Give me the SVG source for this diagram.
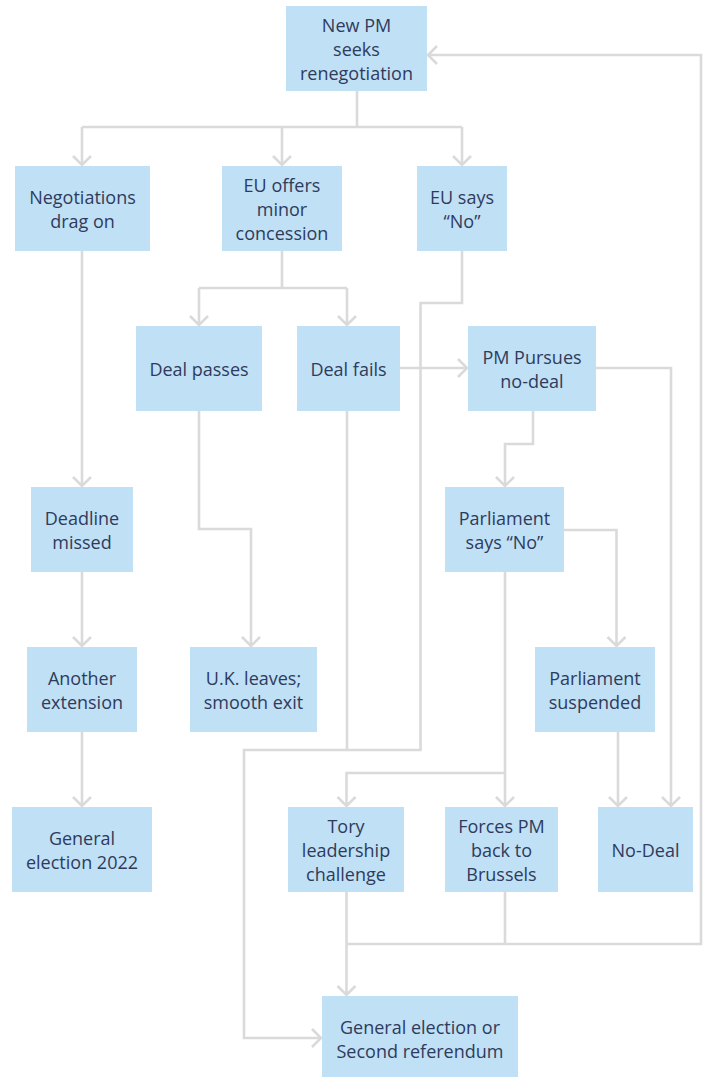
<svg xmlns="http://www.w3.org/2000/svg" width="708" height="1077" viewBox="0 0 708 1077">
<style>
.box{fill:#bfe0f5}
.t{font-family:"Open Sans","Noto Sans","DejaVu Sans",sans-serif;font-size:18px;fill:#2f3b5c;text-anchor:middle}
.c{fill:none;stroke:#dadada;stroke-width:2.6}
</style>
<defs>
<marker id="ah" markerUnits="userSpaceOnUse" markerWidth="24" markerHeight="24" viewBox="-12 -12 24 24" refX="0" refY="0" orient="auto">
<path d="M-9,-9 L0,0 L-9,9" fill="none" stroke="#dadada" stroke-width="2.6"/>
</marker>
</defs>
<g id="connectors">
<path class="c" d="M357,91 V127 M82,127 H462"/>
<path class="c" d="M82,127 V165" marker-end="url(#ah)"/>
<path class="c" d="M282,127 V165" marker-end="url(#ah)"/>
<path class="c" d="M462,127 V165" marker-end="url(#ah)"/>
<path class="c" d="M282,251 V288 M199,288 H347"/>
<path class="c" d="M199,288 V325" marker-end="url(#ah)"/>
<path class="c" d="M347,288 V325" marker-end="url(#ah)"/>
<path class="c" d="M82,251 V486" marker-end="url(#ah)"/>
<path class="c" d="M462,251 V303 H420.5 V750 H244 V1038 H321" marker-end="url(#ah)"/>
<path class="c" d="M347,411 V750"/>
<path class="c" d="M400,368 H467" marker-end="url(#ah)"/>
<path class="c" d="M596,368 H671 V806" marker-end="url(#ah)"/>
<path class="c" d="M533,411 V444 H505 V486" marker-end="url(#ah)"/>
<path class="c" d="M199,411 V529 H251 V646" marker-end="url(#ah)"/>
<path class="c" d="M564,530 H616.5 V646" marker-end="url(#ah)"/>
<path class="c" d="M505,572 V806" marker-end="url(#ah)"/>
<path class="c" d="M505,773 H346.5 V806" marker-end="url(#ah)"/>
<path class="c" d="M618,732 V806" marker-end="url(#ah)"/>
<path class="c" d="M82,572 V646" marker-end="url(#ah)"/>
<path class="c" d="M82,732 V806" marker-end="url(#ah)"/>
<path class="c" d="M346.5,892 V995" marker-end="url(#ah)"/>
<path class="c" d="M505,892 V944"/>
<path class="c" d="M346.5,944 H701 V55 H428" marker-end="url(#ah)"/>
</g>
<g id="n1"><rect class="box" x="286" y="6" width="141" height="85"/><text class="t" x="356.5" y="32">New PM</text><text class="t" x="356.5" y="56">seeks</text><text class="t" x="356.5" y="80">renegotiation</text></g>
<g id="n2"><rect class="box" x="15" y="166" width="135" height="85"/><text class="t" x="82.5" y="204">Negotiations</text><text class="t" x="82.5" y="228">drag on</text></g>
<g id="n3"><rect class="box" x="222" y="166" width="120" height="85"/><text class="t" x="282" y="192">EU offers</text><text class="t" x="282" y="216">minor</text><text class="t" x="282" y="240">concession</text></g>
<g id="n4"><rect class="box" x="417" y="166" width="90" height="85"/><text class="t" x="462" y="204">EU says</text><text class="t" x="462" y="228">“No”</text></g>
<g id="n5"><rect class="box" x="136" y="326" width="126" height="85"/><text class="t" x="199" y="376">Deal passes</text></g>
<g id="n6"><rect class="box" x="297" y="326" width="103" height="85"/><text class="t" x="348.5" y="376">Deal fails</text></g>
<g id="n7"><rect class="box" x="468" y="326" width="128" height="85"/><text class="t" x="532" y="364">PM Pursues</text><text class="t" x="532" y="388">no-deal</text></g>
<g id="n8"><rect class="box" x="31" y="487" width="102" height="85"/><text class="t" x="82" y="525">Deadline</text><text class="t" x="82" y="549">missed</text></g>
<g id="n9"><rect class="box" x="445" y="487" width="119" height="85"/><text class="t" x="504.5" y="525">Parliament</text><text class="t" x="504.5" y="549">says “No”</text></g>
<g id="n10"><rect class="box" x="27" y="647" width="110" height="85"/><text class="t" x="82" y="685">Another</text><text class="t" x="82" y="709">extension</text></g>
<g id="n11"><rect class="box" x="190" y="647" width="127" height="85"/><text class="t" x="253.5" y="685">U.K. leaves;</text><text class="t" x="253.5" y="709">smooth exit</text></g>
<g id="n12"><rect class="box" x="535" y="647" width="120" height="85"/><text class="t" x="595" y="685">Parliament</text><text class="t" x="595" y="709">suspended</text></g>
<g id="n13"><rect class="box" x="12" y="807" width="140" height="85"/><text class="t" x="82" y="845">General</text><text class="t" x="82" y="869">election 2022</text></g>
<g id="n14"><rect class="box" x="288" y="807" width="116" height="85"/><text class="t" x="346" y="833">Tory</text><text class="t" x="346" y="857">leadership</text><text class="t" x="346" y="881">challenge</text></g>
<g id="n15"><rect class="box" x="445" y="807" width="113" height="85"/><text class="t" x="501.5" y="833">Forces PM</text><text class="t" x="501.5" y="857">back to</text><text class="t" x="501.5" y="881">Brussels</text></g>
<g id="n16"><rect class="box" x="598" y="807" width="95" height="85"/><text class="t" x="645.5" y="857">No-Deal</text></g>
<g id="n17"><rect class="box" x="322" y="996" width="196" height="85"/><text class="t" x="420" y="1034">General election or</text><text class="t" x="420" y="1058">Second referendum</text></g>
</svg>
